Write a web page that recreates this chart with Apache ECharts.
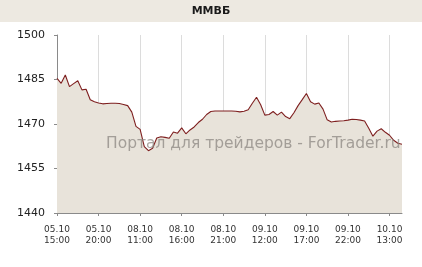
<!DOCTYPE html>
<html><head><meta charset="utf-8">
<script src="https://cdn.jsdelivr.net/npm/echarts@6/dist/echarts.min.js"></script>
<style>html,body{margin:0;padding:0;background:#fff}#c{width:422px;height:267px}</style>
</head><body><div id="c"></div>
<script>
const title = "ММВБ";
const watermark = "Портал для трейдеров - ForTrader.ru";
const tickLabels = ["05.10\n15:00","05.10\n20:00","08.10\n11:00","08.10\n16:00","08.10\n21:00","09.10\n12:00","09.10\n17:00","09.10\n22:00","10.10\n13:00"];
const pointsPerTick = 10;
const values = [
 1485.4,1483.7,1486.5,1482.6,1483.6,1484.6,1481.5,1481.7,1478.2,1477.5,
 1477.1,1476.8,1476.9,1477.0,1477.0,1476.9,1476.6,1476.2,1474.0,1469.2,
 1468.2,1462.4,1461.0,1461.8,1465.3,1465.7,1465.5,1465.2,1467.3,1466.9,
 1468.7,1466.7,1468.0,1469.0,1470.5,1471.6,1473.2,1474.2,1474.4,1474.4,
 1474.4,1474.4,1474.4,1474.3,1474.1,1474.3,1474.8,1477.0,1479.0,1476.5,
 1473.0,1473.2,1474.2,1473.0,1474.0,1472.5,1471.8,1473.8,1476.2,1478.2,
 1480.3,1477.5,1476.7,1477.1,1475.0,1471.4,1470.7,1470.9,1471.0,1471.1,
 1471.3,1471.6,1471.5,1471.3,1471.0,1468.6,1465.9,1467.6,1468.4,1467.2,
 1466.2,1464.5,1463.5,1463.2
];
const categories = values.map((v,i)=>String(i));
const yMin = 1440, yMax = 1500, yStep = 15;

const chart = echarts.init(document.getElementById('c'), null, {renderer:'canvas'});
const font = 'Tahoma, "DejaVu Sans", sans-serif';
chart.setOption({
  animation:false,
  backgroundColor:'#ffffff',
  graphic:[
    {type:'rect', left:0, top:0, shape:{width:422,height:22}, style:{fill:'#ede9e1'}, z:-1},
    {type:'text', left:'center', top:6, style:{text:title, font:'bold 11px '+font, fill:'#1a1a1a'}},
    {type:'text', left:106, top:136, z:100, style:{text:watermark, font:'15.5px "DejaVu Sans", sans-serif', fill:'rgba(140,135,130,0.75)'}}
  ],
  grid:{left:57, right:20, top:35, bottom:54},
  xAxis:{
    type:'category', data:categories, boundaryGap:false,
    axisLine:{lineStyle:{color:'#8a8a8a', width:1}},
    axisTick:{show:true, length:3, interval:(i)=>i%pointsPerTick===0, lineStyle:{color:'#8a8a8a'}},
    axisLabel:{interval:(i)=>i%pointsPerTick===0, formatter:(v,i)=>tickLabels[i/pointsPerTick]||'', color:'#333', fontSize:9, fontFamily:font, lineHeight:11, margin:11},
    splitLine:{show:true, interval:(i)=>i%pointsPerTick===0, lineStyle:{color:'#dcdcdc', width:1}}
  },
  yAxis:{
    type:'value', min:yMin, max:yMax, interval:yStep,
    axisLine:{show:true, lineStyle:{color:'#8a8a8a'}},
    axisTick:{show:true, length:3, lineStyle:{color:'#8a8a8a'}},
    axisLabel:{color:'#222', fontSize:11, fontFamily:font, margin:12, formatter:(v)=>String(v)},
    splitLine:{show:false}
  },
  series:[{
    type:'line', data:values, symbol:'none',
    lineStyle:{color:'#7e1f1f', width:1.1},
    areaStyle:{color:'#e8e3da', opacity:1}
  }]
});
</script></body></html>
